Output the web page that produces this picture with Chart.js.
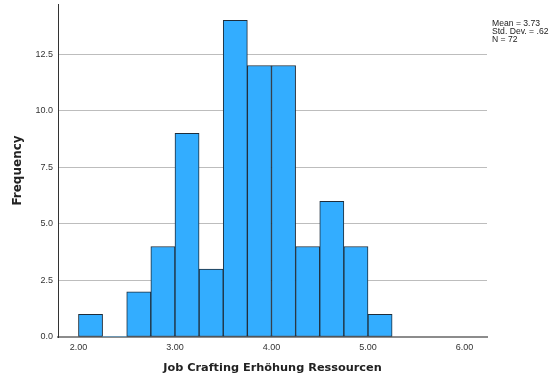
<!DOCTYPE html>
<html><head><meta charset="utf-8">
<script src="https://cdn.jsdelivr.net/npm/chart.js@4/dist/chart.umd.min.js"></script>
<style>html,body{margin:0;padding:0;background:#fff}canvas{display:block}</style>
</head><body>
<canvas id="c" width="559" height="383"></canvas>
<script>
// Histogram bins (start of each bin, width 0.25)
const binStarts = [2.00, 2.25, 2.50, 2.75, 3.00, 3.25, 3.50, 3.75, 4.00, 4.25, 4.50, 4.75, 5.00];
const frequencies = [1, 0, 2, 4, 9, 3, 14, 12, 12, 4, 6, 4, 1];
const binWidth = 0.25;
const xTickValues = [2, 3, 4, 5, 6];
const yTickValues = [0, 2.5, 5, 7.5, 10, 12.5];
const statsLines = ["Mean = 3.73", "Std. Dev. = .62", "N = 72"];
const xTitle = "Job Crafting Erhöhung Ressourcen";
const yTitle = "Frequency";

const points = binStarts.map((s, i) => ({ x: s + binWidth / 2, y: frequencies[i] }));

const statsPlugin = {
  id: 'stats',
  afterDraw(chart) {
    const ctx = chart.ctx;
    ctx.save();
    ctx.fillStyle = '#222';
    ctx.font = '8.6px "Liberation Sans", Arial, sans-serif';
    ctx.textBaseline = 'middle';
    ctx.textAlign = 'left';
    statsLines.forEach((t, i) => ctx.fillText(t, 492, 24 + i * 8));
    ctx.restore();
  }
};

new Chart(document.getElementById('c'), {
  type: 'bar',
  data: {
    datasets: [{
      data: points,
      backgroundColor: '#33adff',
      borderColor: '#1f2d3a',
      borderWidth: (c) => (c.raw && c.raw.y === 0 ? 0 : 1),
      borderSkipped: false,
      barPercentage: 1,
      categoryPercentage: 1
    }]
  },
  options: {
    responsive: false,
    animation: false,
    events: [],
    layout: { padding: { left: 0, right: 72, top: 4, bottom: 0 } },
    plugins: { legend: { display: false }, tooltip: { enabled: false } },
    scales: {
      x: {
        type: 'linear',
        offset: false,
        min: 1.788,
        max: 6.233,
        afterBuildTicks: (s) => { s.ticks = xTickValues.map(v => ({ value: v })); },
        afterFit: (s) => { s.height = 46; },
        grid: { display: false, drawTicks: false },
        border: { display: true, color: '#8c8c8c', width: 2 },
        ticks: {
          padding: 5,
          color: '#333',
          font: { size: 9, family: '"Liberation Sans", Arial, sans-serif' },
          callback: (v) => Number(v).toFixed(2),
          maxRotation: 0
        },
        title: {
          display: true,
          text: xTitle,
          color: '#222',
          font: { size: 11.3, weight: 'bold', family: '"DejaVu Sans", sans-serif' },
          padding: { top: 0, bottom: 8 }
        }
      },
      y: {
        min: 0,
        max: 14.72,
        afterBuildTicks: (s) => { s.ticks = yTickValues.map(v => ({ value: v })); },
        afterFit: (s) => { s.width = 58; s.paddingTop = 0; s.paddingBottom = 0; },
        grid: {
          drawTicks: false,
          color: (c) => (c.tick && c.tick.value === 0 ? 'rgba(0,0,0,0)' : '#bdbdbd'),
          lineWidth: 1
        },
        border: { display: true, color: '#333', width: 1 },
        ticks: {
          padding: 5,
          color: '#333',
          font: { size: 9, family: '"Liberation Sans", Arial, sans-serif' },
          callback: (v) => Number(v).toFixed(1)
        },
        title: {
          display: true,
          text: yTitle,
          color: '#222',
          font: { size: 12, weight: 'bold', family: '"DejaVu Sans", sans-serif' },
          padding: { top: 11, bottom: 0 }
        }
      }
    }
  },
  plugins: [statsPlugin]
});
</script>
</body></html>
